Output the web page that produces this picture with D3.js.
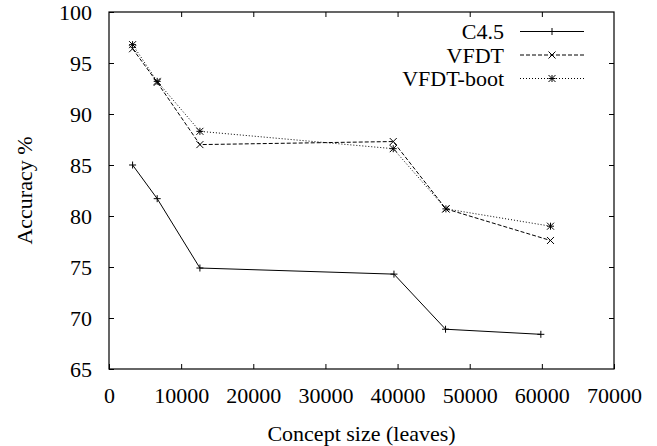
<!DOCTYPE html>
<html lang="en">
<head>
<meta charset="UTF-8">
<title>Accuracy vs concept size</title>
<script src="https://d3js.org/d3.v7.min.js"></script>
<style>
    body { margin: 0; background: #fff; }
</style>
</head>
<body>
<svg width="657" height="446"></svg>
<script>
    // concept size (leaves) and accuracy
    const c45Size = [3270, 6680, 12600, 39500, 46650, 59860]
    const c45Acc = [85.0, 81.7, 74.9, 74.3, 68.9, 68.4]
    const vfdtSize = [3270, 6680, 12600, 39400, 46700, 61200]
    const vfdtAcc = [96.4, 93.1, 87.0, 87.3, 80.7, 77.6]
    const bootSize = [3270, 6680, 12600, 39400, 46700, 61200]
    const bootAcc = [96.8, 93.2, 88.3, 86.6, 80.7, 79.0]

    const seriesNames = ['C4.5', 'VFDT', 'VFDT-boot']
    const xTicks = [0, 10000, 20000, 30000, 40000, 50000, 60000, 70000]
    const yTicks = [65, 70, 75, 80, 85, 90, 95, 100]

    const series = [
        {name: seriesNames[0], xs: c45Size, ys: c45Acc, dash: null, mark: 'plus'},
        {name: seriesNames[1], xs: vfdtSize, ys: vfdtAcc, dash: '4,2', mark: 'cross'},
        {name: seriesNames[2], xs: bootSize, ys: bootAcc, dash: '1,2', mark: 'star'}
    ]

    let font = '"Liberation Serif"'
    let fontSize = '22px'

    let svg = d3.select('svg')
    let margin = {top: 12, right: 43, bottom: 77, left: 109}
    let width = +svg.attr('width') - margin.left - margin.right
    let height = +svg.attr('height') - margin.top - margin.bottom

    let x = d3.scaleLinear().domain([0, 70000]).range([0, width])
    let y = d3.scaleLinear().domain([65, 100]).range([height, 0])

    let g = svg.append('g')
        .attr('transform', 'translate(' + margin.left + ',' + margin.top + ')')

    // axes, ticks pointing inwards, mirrored on top and right
    g.append('g')
        .attr('transform', 'translate(0,' + height + ')')
        .call(d3.axisBottom(x).tickValues(xTicks).tickFormat(d3.format('d'))
            .tickSizeInner(-5).tickSizeOuter(0).tickPadding(18))
        .call(a => a.select('.domain').remove())
        .selectAll('text').style('font-family', font).style('font-size', fontSize)
    g.append('g')
        .call(d3.axisTop(x).tickValues(xTicks.slice(1, -1)).tickFormat('')
            .tickSizeInner(-5).tickSizeOuter(0))
        .call(a => a.select('.domain').remove())
    g.append('g')
        .call(d3.axisLeft(y).tickValues(yTicks).tickFormat(d3.format('d'))
            .tickSizeInner(-5).tickSizeOuter(0).tickPadding(17))
        .call(a => a.select('.domain').remove())
        .selectAll('text').style('font-family', font).style('font-size', fontSize)
    g.append('g')
        .attr('transform', 'translate(' + width + ',0)')
        .call(d3.axisRight(y).tickValues(yTicks.slice(1, -1)).tickFormat('')
            .tickSizeInner(-5).tickSizeOuter(0))
        .call(a => a.select('.domain').remove())

    g.selectAll('.tick line').attr('stroke', '#000')

    g.append('rect')
        .attr('width', width)
        .attr('height', height)
        .attr('fill', 'none')
        .attr('stroke', '#000')
        .attr('stroke-width', 1.2)

    // axis titles
    svg.append('text')
        .attr('x', margin.left + width / 2)
        .attr('y', 441)
        .attr('text-anchor', 'middle')
        .style('font-family', font)
        .style('font-size', fontSize)
        .text('Concept size (leaves)')
    svg.append('text')
        .attr('transform', 'translate(32,' + (margin.top + height / 2) + ') rotate(-90)')
        .attr('text-anchor', 'middle')
        .style('font-family', font)
        .style('font-size', fontSize)
        .text('Accuracy %')

    function drawMark(sel, type, cx, cy) {
        let r = 3.5
        let segs = []
        if (type === 'plus' || type === 'star') {
            segs.push([cx - r, cy, cx + r, cy], [cx, cy - r, cx, cy + r])
        }
        if (type === 'cross' || type === 'star') {
            segs.push([cx - r, cy - r, cx + r, cy + r], [cx - r, cy + r, cx + r, cy - r])
        }
        segs.forEach(s => {
            sel.append('line')
                .attr('x1', s[0]).attr('y1', s[1])
                .attr('x2', s[2]).attr('y2', s[3])
                .attr('stroke', '#000')
                .attr('stroke-width', 1)
        })
    }

    let line = d3.line().x(d => x(d[0])).y(d => y(d[1]))

    series.forEach(s => {
        let pts = s.xs.map((v, i) => [v, s.ys[i]])
        g.append('path')
            .datum(pts)
            .attr('d', line)
            .attr('fill', 'none')
            .attr('stroke', '#000')
            .attr('stroke-width', 1)
            .attr('stroke-dasharray', s.dash)
        let mg = g.append('g')
        pts.forEach(p => drawMark(mg, s.mark, x(p[0]), y(p[1])))
    })

    // legend
    let legend = svg.append('g')
    series.forEach((s, i) => {
        let ly = 31.5 + i * 23.5
        legend.append('text')
            .attr('x', 504)
            .attr('y', ly + 7.5)
            .attr('text-anchor', 'end')
            .style('font-family', font)
            .style('font-size', fontSize)
            .text(s.name)
        legend.append('line')
            .attr('x1', 520).attr('x2', 584)
            .attr('y1', ly).attr('y2', ly)
            .attr('stroke', '#000')
            .attr('stroke-width', 1)
            .attr('stroke-dasharray', s.dash)
        drawMark(legend, s.mark, 552, ly)
    })
</script>
</body>
</html>
